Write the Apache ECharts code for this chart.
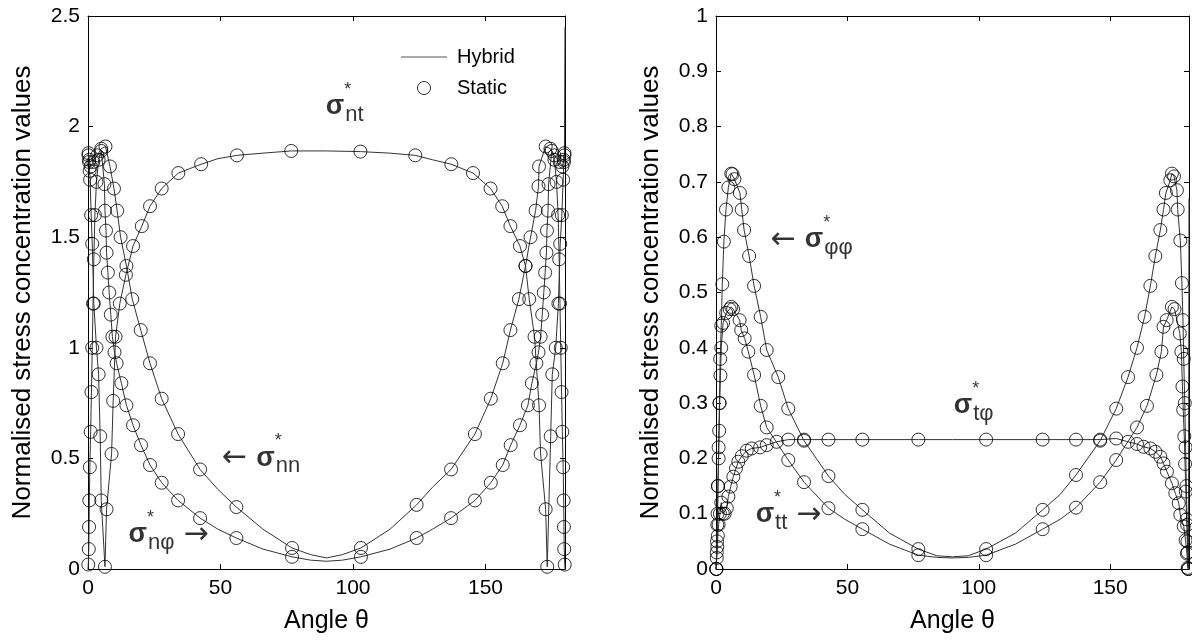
<!DOCTYPE html>
<html><head><meta charset="utf-8">
<script src="https://cdn.jsdelivr.net/npm/echarts@6/dist/echarts.min.js"></script>
<style>html,body{margin:0;padding:0;background:#fff}#c{width:1192px;height:640px}</style>
</head><body><div id="c"></div>
<script>
// ---------- tick labels ----------
const xTicks = [0, 50, 100, 150];
const leftYTicks = [0, 0.5, 1, 1.5, 2, 2.5];
const rightYTicks = [0, 0.1, 0.2, 0.3, 0.4, 0.5, 0.6, 0.7, 0.8, 0.9, 1];
const xMax = 180;

// ---------- left panel: static points [angle, value] ----------
const ntStatic = [[0.2,1.87],[0.4,1.84],[0.6,1.8],[0.8,1.76],[1.2,1.6],[1.6,1.47],[2.2,1.2],[3.2,1.0],[4.0,0.88],[4.6,0.6],[5.0,0.31],[6.4,0.01],[7.0,0.27],[8.9,0.52],[9.5,0.76],[10.4,1.05],[12.0,1.2],[14.3,1.33],[17.0,1.46],[20.3,1.55],[23.4,1.64],[27.8,1.72],[34.1,1.79],[42.7,1.83],[56.2,1.87],[76.7,1.89],[102.8,1.887],[123.5,1.87],[137.1,1.83],[145.3,1.79],[151.9,1.72],[156.3,1.64],[159.4,1.55],[163.0,1.46],[165.1,1.37],[166.5,1.22],[168.5,1.05],[170.2,0.74],[170.8,0.52],[172.7,0.27],[173.3,0.01],[174.6,0.6],[175.2,0.88],[176.5,1.0],[177.5,1.2],[178.2,1.47],[178.8,1.6],[179.3,1.76],[179.6,1.84],[179.8,1.87]];
const nnStatic = [[0.2,1.88],[0.5,1.85],[1.0,1.82],[2.0,1.84],[3.5,1.87],[5.0,1.9],[6.6,1.91],[8.3,1.82],[9.8,1.72],[11.0,1.62],[12.3,1.5],[14.5,1.37],[16.7,1.22],[19.9,1.08],[23.4,0.93],[27.8,0.77],[34.0,0.61],[42.3,0.45],[56.0,0.28],[77.0,0.095],[103.0,0.095],[124.0,0.29],[137.0,0.45],[146.0,0.61],[152.0,0.77],[156.5,0.93],[159.4,1.08],[162.6,1.22],[165.1,1.37],[167.0,1.5],[168.9,1.62],[170.0,1.73],[170.2,1.82],[172.7,1.91],[174.5,1.9],[176.0,1.87],[178.0,1.84],[179.0,1.82],[179.5,1.85],[179.8,1.88]];
const nphiStatic = [[0.1,0.02],[0.3,0.09],[0.4,0.19],[0.5,0.31],[0.7,0.46],[1.0,0.62],[1.3,0.8],[1.6,1.0],[1.9,1.2],[2.2,1.4],[2.6,1.6],[3.2,1.75],[4.0,1.85],[5.0,1.89],[6.2,1.74],[6.4,1.62],[6.8,1.53],[7.0,1.43],[7.5,1.34],[8.0,1.25],[8.6,1.15],[9.2,1.05],[10.0,0.98],[10.8,0.93],[12.6,0.84],[14.5,0.74],[17.0,0.65],[20.0,0.56],[23.4,0.47],[27.8,0.39],[34.0,0.31],[42.3,0.23],[56.0,0.14],[77.0,0.055],[103.0,0.055],[124.0,0.14],[137.0,0.23],[146.0,0.31],[152.0,0.39],[156.5,0.47],[159.5,0.56],[163.0,0.65],[166.0,0.74],[167.5,0.84],[169.2,0.93],[170.0,0.98],[170.8,1.05],[171.4,1.15],[172.0,1.25],[172.5,1.34],[173.0,1.43],[173.2,1.53],[173.6,1.62],[173.8,1.74],[175.0,1.89],[176.0,1.85],[176.8,1.75],[177.4,1.6],[177.8,1.4],[178.1,1.2],[178.4,1.0],[178.7,0.8],[179.0,0.62],[179.3,0.46],[179.5,0.31],[179.6,0.19],[179.7,0.09],[179.9,0.02]];
// extra points of the continuous (hybrid) curves
const ntHybridExtra = [[0,1.88],[49,1.855],[66,1.88],[90,1.89],[114,1.88],[130,1.85],[180,2.45]];
const nnHybridExtra = [[0,1.88],[49,0.36],[66,0.18],[84,0.065],[90,0.05],[96,0.065],[114,0.18],[130,0.37],[180,1.88]];
const nphiHybridExtra = [[0,0],[49,0.18],[66,0.09],[84,0.04],[90,0.035],[96,0.04],[114,0.09],[130,0.18],[180,0]];

// ---------- right panel: static points [angle, value] ----------
const phiphiStatic = [[0.1,0.0],[0.3,0.03],[0.5,0.08],[0.7,0.15],[1.0,0.22],[1.3,0.3],[1.6,0.38],[2.0,0.44],[2.4,0.515],[3.0,0.592],[3.8,0.65],[4.7,0.69],[5.8,0.715],[6.3,0.714],[7.0,0.705],[9.1,0.68],[9.8,0.65],[10.7,0.613],[12.6,0.566],[14.5,0.512],[17.0,0.456],[19.3,0.396],[23.7,0.347],[27.5,0.29],[33.5,0.232],[42.8,0.168],[55.7,0.107],[77.0,0.036],[102.8,0.036],[124.3,0.107],[137.0,0.17],[146.2,0.232],[152.3,0.29],[156.8,0.347],[160.2,0.40],[163.1,0.456],[165.3,0.512],[167.2,0.566],[169.1,0.613],[170.3,0.65],[171.2,0.68],[172.9,0.703],[173.5,0.715],[174.3,0.71],[175.4,0.685],[175.7,0.65],[176.7,0.594],[177.3,0.517],[177.7,0.45],[178.0,0.38],[178.4,0.3],[178.7,0.22],[179.0,0.15],[179.3,0.08],[179.5,0.03],[179.8,0.0]];
const ttStatic = [[0.2,0.0],[0.4,0.05],[0.6,0.1],[0.8,0.15],[1.0,0.2],[1.2,0.25],[1.4,0.3],[1.7,0.35],[2.0,0.4],[2.7,0.445],[3.9,0.463],[5.2,0.47],[5.8,0.474],[6.5,0.47],[9.0,0.45],[9.6,0.432],[10.9,0.417],[12.3,0.393],[14.5,0.351],[17.0,0.295],[19.3,0.256],[27.5,0.197],[33.5,0.157],[42.8,0.11],[55.7,0.072],[77.0,0.025],[102.8,0.025],[124.3,0.072],[137.0,0.111],[146.2,0.157],[152.3,0.197],[160.2,0.256],[164.0,0.295],[167.6,0.351],[169.5,0.393],[170.3,0.438],[171.5,0.45],[173.5,0.474],[174.5,0.47],[176.5,0.426],[177.1,0.393],[177.5,0.33],[177.8,0.288],[178.2,0.24],[178.5,0.19],[178.8,0.14],[179.1,0.09],[179.4,0.05],[179.7,0.0]];
const tphiStatic = [[0.1,0.0],[0.3,0.02],[0.5,0.04],[0.7,0.06],[1.0,0.08],[1.5,0.1],[2.0,0.12],[2.6,0.1],[3.3,0.1],[4.1,0.11],[4.7,0.131],[5.6,0.149],[6.6,0.167],[7.6,0.182],[8.5,0.194],[9.8,0.204],[11.7,0.214],[13.6,0.218],[16.8,0.22],[19.3,0.224],[23.1,0.23],[27.5,0.234],[33.5,0.234],[42.8,0.234],[55.7,0.234],[77.0,0.234],[102.8,0.234],[124.3,0.234],[137.0,0.234],[146.2,0.234],[152.3,0.236],[156.8,0.23],[160.2,0.226],[162.7,0.221],[165.3,0.218],[167.2,0.212],[169.1,0.203],[170.3,0.191],[171.6,0.176],[173.5,0.155],[174.8,0.137],[176.1,0.119],[176.7,0.098],[178.0,0.077],[178.7,0.052],[179.2,0.028],[179.5,0.002]];
const phiphiHybridExtra = [[0,0],[49,0.135],[66,0.065],[84,0.024],[90,0.022],[96,0.024],[114,0.065],[131,0.135],[180,0],[180,0.67]];
const ttHybridExtra = [[0,0],[49,0.09],[66,0.045],[84,0.021],[90,0.02],[96,0.021],[114,0.045],[131,0.09],[180,0]];
const tphiHybridExtra = [[0,0],[90,0.234],[180,0]];

// ---------- text ----------
const yTitle = 'Normalised stress concentration values';
const xTitle = 'Angle \u03b8';
const legendNames = ['Hybrid', 'Static'];

// ---------- build ----------
const FONT = 'Liberation Sans, Arial, sans-serif';
const lineColor = '#333';
function hybrid(stat, extra) { return stat.concat(extra).sort((p, q) => p[0] - q[0]); }
function isTick(list, v) { return list.some(t => Math.abs(t - v) < 1e-6); }

function xAxes(gi) {
  const base = { gridIndex: gi, type: 'value', min: 0, max: xMax, interval: xTicks[1] - xTicks[0],
    splitLine: { show: false },
    axisLine: { show: true, onZero: false, lineStyle: { color: '#000', width: 1 } },
    axisTick: { show: true, inside: true, length: 5, lineStyle: { color: '#000' } } };
  return [
    Object.assign({}, base, { position: 'bottom',
      axisLabel: { show: true, fontSize: 21, color: '#000', fontFamily: FONT, margin: 9, showMaxLabel: false,
        formatter: v => isTick(xTicks, v) ? String(v) : '' },
      name: xTitle, nameLocation: 'middle', nameGap: 40,
      nameTextStyle: { fontSize: 25, color: '#000', fontFamily: FONT } }),
    Object.assign({}, base, { position: 'top', axisLabel: { show: false } })
  ];
}
function yAxes(gi, ticks) {
  const base = { gridIndex: gi, type: 'value', min: ticks[0], max: ticks[ticks.length - 1],
    interval: ticks[1] - ticks[0], splitLine: { show: false },
    axisLine: { show: true, onZero: false, lineStyle: { color: '#000', width: 1 } },
    axisTick: { show: true, inside: true, length: 5, lineStyle: { color: '#000' } } };
  return [
    Object.assign({}, base, { position: 'left',
      axisLabel: { show: true, fontSize: 21, color: '#000', fontFamily: FONT, margin: 8,
        formatter: v => String(+v.toFixed(2)) },
      name: yTitle, nameLocation: 'middle', nameGap: 52, nameRotate: 90,
      nameTextStyle: { fontSize: 26, color: '#000', fontFamily: FONT } }),
    Object.assign({}, base, { position: 'right', axisLabel: { show: false } })
  ];
}

function curveSeries(axisIdx, stat, extra) {
  return [
    { name: legendNames[0], type: 'line', xAxisIndex: axisIdx, yAxisIndex: axisIdx,
      data: hybrid(stat, extra), symbol: 'none', showSymbol: false, animation: false,
      lineStyle: { color: lineColor, width: 1 }, itemStyle: { color: lineColor }, z: 2 },
    { name: legendNames[1], type: 'scatter', xAxisIndex: axisIdx, yAxisIndex: axisIdx,
      data: stat, symbol: 'circle', symbolSize: 13, animation: false,
      itemStyle: { color: 'rgba(0,0,0,0)', borderColor: '#000', borderWidth: 1 }, z: 3 }
  ];
}

const rich = {
  sg: { fontSize: 27, fontWeight: 'bold', fontFamily: FONT, color: '#000' },
  sb: { fontSize: 22, fontFamily: FONT, color: '#000', padding: [16, 0, 0, 0] },
  st: { fontSize: 18, fontFamily: FONT, color: '#000', width: 1, padding: [0, 0, 34, 0] },
  al: { fontSize: 30, fontFamily: 'DejaVu Sans', color: '#000', padding: [0, 9, 0, 0] },
  ar: { fontSize: 30, fontFamily: 'DejaVu Sans', color: '#000', padding: [0, 0, 0, 9] }
};
function annot(axisIdx, items) {
  return { type: 'scatter', xAxisIndex: axisIdx, yAxisIndex: axisIdx, silent: true, animation: false,
    symbolSize: 1, itemStyle: { color: 'rgba(0,0,0,0)' }, z: 5,
    label: { show: true, position: 'right', distance: 0, formatter: p => p.name, rich: rich },
    data: items.map(it => ({ name: it[0], value: it[1] })) };
}
// label text and its anchor (angle, value) in data units
const leftNotes = [
  ['{sg|\u03c3}{st|*}{sb|nt}', [89.5, 2.09]],
  ['{al|\u2190}{sg|\u03c3}{st|*}{sb|nn}', [50.4, 0.5]],
  ['{sg|\u03c3}{st|*}{sb|n\u03c6}{ar|\u2192}', [15.1, 0.155]]
];
const rightNotes = [
  ['{al|\u2190}{sg|\u03c3}{st|*}{sb|\u03c6\u03c6}', [20.6, 0.595]],
  ['{sg|\u03c3}{st|*}{sb|t\u03c6}', [90.3, 0.295]],
  ['{sg|\u03c3}{st|*}{sb|tt}{ar|\u2192}', [14.9, 0.098]]
];

const series = []
  .concat(curveSeries(0, ntStatic, ntHybridExtra))
  .concat(curveSeries(0, nnStatic, nnHybridExtra))
  .concat(curveSeries(0, nphiStatic, nphiHybridExtra))
  .concat(curveSeries(2, phiphiStatic, phiphiHybridExtra))
  .concat(curveSeries(2, ttStatic, ttHybridExtra))
  .concat(curveSeries(2, tphiStatic, tphiHybridExtra));
series.push(annot(0, leftNotes));
series.push(annot(2, rightNotes));

const chart = echarts.init(document.getElementById('c'), null, { renderer: 'canvas' });
chart.setOption({
  backgroundColor: '#fff',
  animation: false,
  textStyle: { fontFamily: FONT },
  grid: [
    { left: 88, top: 16, width: 477, height: 553, containLabel: false },
    { left: 716, top: 16, width: 473, height: 553, containLabel: false }
  ],
  xAxis: xAxes(0).concat(xAxes(1)),
  yAxis: yAxes(0, leftYTicks).concat(yAxes(1, rightYTicks)),
  legend: {
    left: 396, top: 42, orient: 'vertical', itemWidth: 46, itemHeight: 13, itemGap: 11,
    selectedMode: false,
    textStyle: { fontSize: 20, color: '#000', fontFamily: FONT, padding: [0, 0, 0, 5] },
    data: [
      { name: legendNames[0], icon: 'path://M0,0 L46,0 L46,1 L0,1 Z',
        itemStyle: { color: '#555', borderWidth: 0 } },
      { name: legendNames[1], icon: 'circle',
        itemStyle: { color: 'rgba(0,0,0,0)', borderColor: '#000', borderWidth: 1 } }
    ]
  },
  series: series
});
</script></body></html>
